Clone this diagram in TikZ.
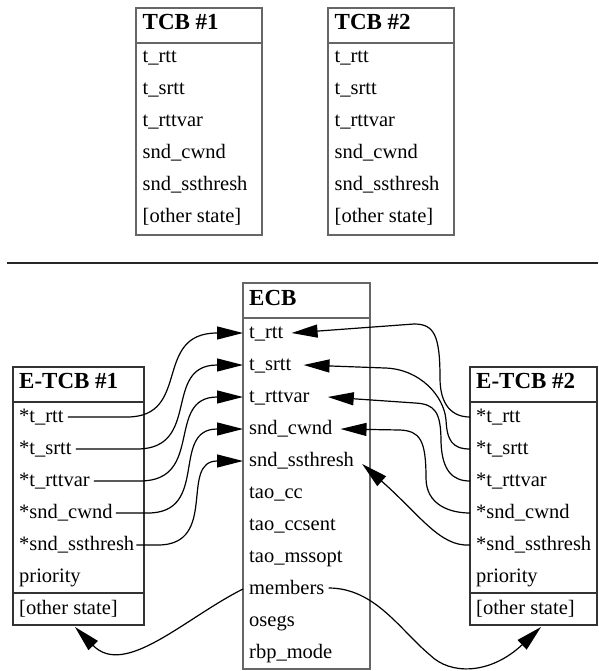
\documentclass[tikz,border=0pt]{standalone}
\usepackage{fontspec}
\setmainfont{Liberation Serif}
\usetikzlibrary{arrows.meta,calc}
\newcommand\fldfont{\fontsize{20.5}{24}\selectfont}
\newcommand\hdrfont{\fontsize{23}{27}\selectfont\bfseries}
\begin{document}
\begin{tikzpicture}[x=1pt,y=-1pt,
  tbox/.style={draw=black!60, line width=1.3pt, inner sep=0pt, outer sep=0pt, anchor=north west},
  ebox/.style={draw=black!80, line width=1.2pt, inner sep=0pt, outer sep=0pt, anchor=north west},
  tsep/.style={draw=black!60, line width=1.3pt},
  esep/.style={draw=black!80, line width=1.2pt},
  fld/.style={anchor=base west, inner sep=0pt, font=\fldfont},
  hdr/.style={anchor=base west, inner sep=0pt, font=\hdrfont},
  ptr/.style={draw=black, line width=1.2pt, -{Triangle[length=26pt,width=13pt]}},
  hrule/.style={draw=black!85, line width=1.4pt}]
\useasboundingbox (0,0) rectangle (598,671);

% ---------- TCB #1 ----------
\node[tbox, minimum width=126pt, minimum height=227pt] (tcb1) at (136,8) {};
\draw[tsep] (136,43) -- (262,43);
\node[hdr] (t1h) at (142.5,30) {TCB \#1};
\node[fld] (t1a) at (142.5,63) {t\_rtt};
\node[fld] (t1b) at (142.5,94.8) {t\_srtt};
\node[fld] (t1c) at (142.5,126.6) {t\_rttvar};
\node[fld] (t1d) at (142.5,158.4) {snd\_cwnd};
\node[fld] (t1e) at (142.5,190.2) {snd\_ssthresh};
\node[fld] (t1f) at (142.5,222) {[other state]};

% ---------- TCB #2 ----------
\node[tbox, minimum width=126pt, minimum height=227pt] (tcb2) at (328,8) {};
\draw[tsep] (328,43) -- (454,43);
\node[hdr] (t2h) at (334.5,30) {TCB \#2};
\node[fld] (t2a) at (334.5,63) {t\_rtt};
\node[fld] (t2b) at (334.5,94.8) {t\_srtt};
\node[fld] (t2c) at (334.5,126.6) {t\_rttvar};
\node[fld] (t2d) at (334.5,158.4) {snd\_cwnd};
\node[fld] (t2e) at (334.5,190.2) {snd\_ssthresh};
\node[fld] (t2f) at (334.5,222) {[other state]};

% ---------- separator rule ----------
\coordinate (rl) at (7,263);
\coordinate (rr) at (598,263);
\draw[hrule] (rl) -- (rr);

% ---------- ECB ----------
\node[tbox, minimum width=127pt, minimum height=386pt] (ecb) at (243,283) {};
\draw[tsep] (243,318) -- (370,318);
\node[hdr] (ch) at (249,305) {ECB};
\node[fld] (c1) at (249,338) {t\_rtt};
\node[fld] (c2) at (249,370) {t\_srtt};
\node[fld] (c3) at (249,402) {t\_rttvar};
\node[fld] (c4) at (249,434) {snd\_cwnd};
\node[fld] (c5) at (249,466) {snd\_ssthresh};
\node[fld] (c6) at (249,498) {tao\_cc};
\node[fld] (c7) at (249,530) {tao\_ccsent};
\node[fld] (c8) at (249,562) {tao\_mssopt};
\node[fld] (c9) at (249,594) {members};
\node[fld] (c10) at (249,626) {osegs};
\node[fld] (c11) at (249,658) {rbp\_mode};

% ---------- E-TCB #1 ----------
\node[ebox, minimum width=131pt, minimum height=258pt] (e1) at (13,367) {};
\draw[esep] (13,402) -- (144,402);
\draw[esep] (13,593) -- (144,593);
\node[hdr] (e1h) at (19,388) {E-TCB \#1};
\node[fld] (e1a) at (19,422) {*t\_rtt};
\node[fld] (e1b) at (19,454) {*t\_srtt};
\node[fld] (e1c) at (19,486) {*t\_rttvar};
\node[fld] (e1d) at (19,518) {*snd\_cwnd};
\node[fld] (e1e) at (19,550) {*snd\_ssthresh};
\node[fld] (e1f) at (19,582) {priority};
\node[fld] (e1g) at (19,614) {[other state]};

% ---------- E-TCB #2 ----------
\node[ebox, minimum width=127pt, minimum height=258pt] (e2) at (470,367) {};
\draw[esep] (470,402) -- (597,402);
\draw[esep] (470,593) -- (597,593);
\node[hdr] (e2h) at (476,388) {E-TCB \#2};
\node[fld] (e2a) at (476,422) {*t\_rtt};
\node[fld] (e2b) at (476,454) {*t\_srtt};
\node[fld] (e2c) at (476,486) {*t\_rttvar};
\node[fld] (e2d) at (476,518) {*snd\_cwnd};
\node[fld] (e2e) at (476,550) {*snd\_ssthresh};
\node[fld] (e2f) at (476,582) {priority};
\node[fld] (e2g) at (476,614) {[other state]};

% ---------- E-TCB #1 -> ECB ----------
\draw[ptr] ($(e1a.base east)+(4,-5)$) -- (127,417) .. controls (192,417) and (152,333) .. ($(ecb.west |- c1.base)+(0,-5)$);
\draw[ptr] ($(e1b.base east)+(4,-5)$) -- (137,449) .. controls (202,449) and (162,365) .. ($(ecb.west |- c2.base)+(0,-5)$);
\draw[ptr] ($(e1c.base east)+(4,-5)$) -- (140,481) .. controls (205,481) and (165,397) .. ($(ecb.west |- c3.base)+(0,-5)$);
\draw[ptr] ($(e1d.base east)+(3,-5)$) -- (148,513) .. controls (210,513) and (170,429) .. ($(ecb.west |- c4.base)+(0,-5)$);
\draw[ptr] ($(e1e.base east)+(2,-5)$) -- (158,545) .. controls (219,545) and (179,461) .. ($(ecb.west |- c5.base)+(0,-5)$);

% ---------- E-TCB #2 -> ECB ----------
\draw[ptr] ($(e2.west |- e2a.base)+(0,-5)$) .. controls (452,417) and (440,405) .. (440,378)
  .. controls (440,335) and (434,324) .. (414,324) -- ($(c1.base east)+(8,-5)$);
\draw[ptr] ($(e2.west |- e2b.base)+(0,-5)$) .. controls (452,449) and (447,440) .. (446,420)
  .. controls (444,396) and (420,369) .. (385,368) -- ($(c2.base east)+(12,-5)$);
\draw[ptr] ($(e2.west |- e2c.base)+(0,-5)$) .. controls (452,481) and (442,470) .. (441,442)
  .. controls (441,412) and (435,404) .. (415,403) -- ($(c3.base east)+(18,-5)$);
\draw[ptr] ($(e2.west |- e2d.base)+(0,-5)$) .. controls (450,513) and (426,505) .. (426,478)
  .. controls (426,440) and (420,431) .. (400,430) -- ($(c4.base east)+(8,-5)$);
\draw[ptr] ($(e2.west |- e2e.base)+(0,-5)$) .. controls (440,547) and (420,515) .. ($(c5.base east)+(8,-2)$);

% ---------- members ----------
\draw[ptr] ($(ecb.west |- c9.base)+(0,-5)$) .. controls (185,618) and (125,678) .. ($(e1.south west)+(62,2)$);
\draw[ptr] ($(c9.base east)+(4,-6)$) .. controls (375,588) and (400,630) .. (430,655)
  .. controls (450,675) and (490,675) .. ($(e2.south west)+(71,2)$);
\end{tikzpicture}
\end{document}
